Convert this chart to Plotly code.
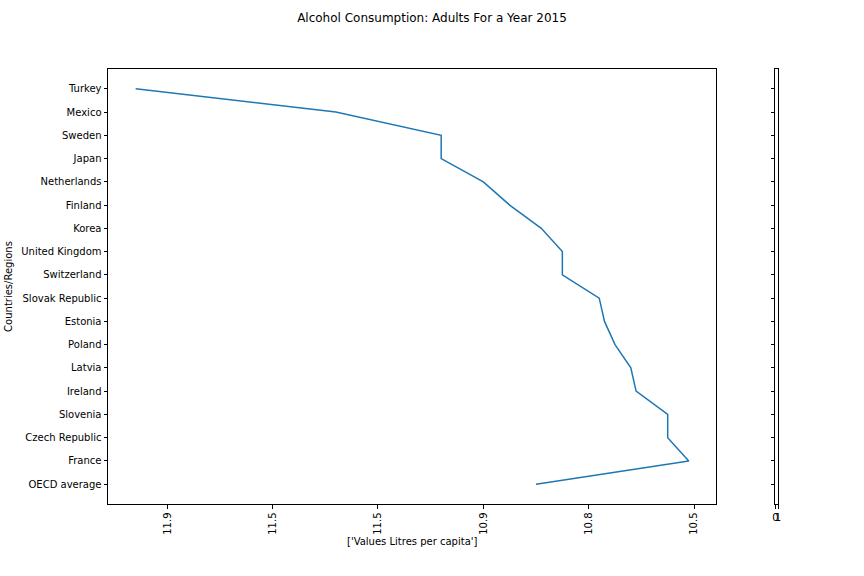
import plotly.graph_objects as go

countries = ["OECD average", "France", "Czech Republic", "Slovenia", "Ireland", "Latvia",
             "Poland", "Estonia", "Slovak Republic", "Switzerland", "United Kingdom", "Korea",
             "Finland", "Netherlands", "Japan", "Sweden", "Mexico", "Turkey"]
values = [9.0, 11.9, 11.5, 11.5, 10.9, 10.8, 10.5, 10.3, 10.2, 9.5, 9.5, 9.1,
          8.5, 8.0, 7.2, 7.2, 5.2, 1.4]
tick_vals = [2, 4, 6, 8, 10, 12]
tick_text = ["11.9", "11.5", "11.5", "10.9", "10.8", "10.5"]

W, H = 864, 576
L, R, T, B = 108, 778.3, 69.3, 504
pw = R - L
main_right = (716.7 - L) / pw
small_left = (775.7 - L) / pw

font = "DejaVu Sans, Liberation Sans, sans-serif"

fig = go.Figure()
fig.add_trace(go.Scatter(x=values, y=countries, mode="lines",
                         line=dict(color="#1f77b4", width=1.5),
                         showlegend=False, xaxis="x", yaxis="y"))
fig.add_trace(go.Scatter(x=[None] * len(countries), y=countries, mode="lines",
                         showlegend=False, hoverinfo="skip", xaxis="x2", yaxis="y2"))

axis_common = dict(showline=True, linecolor="black", linewidth=1, mirror=True,
                   ticks="outside", ticklen=3.5, tickwidth=1, tickcolor="black",
                   showgrid=False, zeroline=False, automargin=False,
                   tickfont=dict(family=font, size=10, color="black"))

n = len(countries)
fig.update_layout(
    width=W, height=H,
    margin=dict(l=L, r=W - R, t=T, b=H - B, pad=0),
    paper_bgcolor="white", plot_bgcolor="white",
    font=dict(family=font, size=10, color="black"),
    title=dict(text="Alcohol Consumption: Adults For a Year 2015",
               x=0.5, xanchor="center", y=1 - 18 / H, yanchor="middle", yref="container",
               font=dict(family=font, size=12, color="black")),
    xaxis=dict(domain=[0, main_right], range=[0.875, 12.425],
               tickvals=tick_vals, ticktext=tick_text, tickangle=-90,
               title=dict(text="['Values Litres per capita']", standoff=4,
                          font=dict(family=font, size=10, color="black")),
               anchor="y", **axis_common),
    yaxis=dict(domain=[0, 1], type="category", categoryorder="array", categoryarray=countries,
               range=[-0.85, n - 1 + 0.85],
               title=dict(text="Countries/Regions", standoff=6,
                          font=dict(family=font, size=10, color="black")),
               anchor="x", **axis_common),
    xaxis2=dict(domain=[small_left, 1], range=[0, 1], tickvals=[0, 1], ticktext=["0", "1"],
                tickangle=0, anchor="y2", **axis_common),
    yaxis2=dict(domain=[0, 1], type="category", categoryorder="array", categoryarray=countries,
                range=[-0.85, n - 1 + 0.85], showticklabels=False,
                anchor="x2", **axis_common),
)

fig.write_html("out.html", config={"displayModeBar": False},
               post_script="document.body.style.margin='0';")
